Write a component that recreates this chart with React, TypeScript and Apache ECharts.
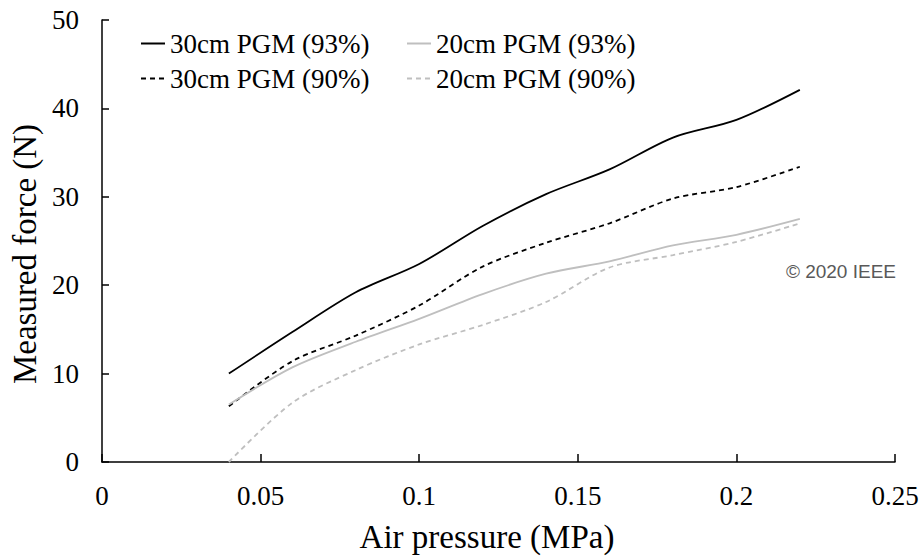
import React, { useEffect, useRef } from "react";
import * as echarts from "echarts";

const pressures = [0.04, 0.06, 0.08, 0.1, 0.12, 0.14, 0.16, 0.18, 0.2, 0.22];
const pgm30_93 = [10.0, 14.7, 19.2, 22.4, 26.7, 30.3, 33.1, 36.7, 38.7, 42.1];
const pgm30_90 = [6.3, 11.4, 14.3, 17.7, 22.1, 24.8, 27.0, 29.8, 31.1, 33.4];
const pgm20_93 = [6.5, 10.7, 13.6, 16.2, 19.0, 21.3, 22.7, 24.5, 25.7, 27.5];
const pgm20_90 = [0.0, 6.7, 10.4, 13.3, 15.5, 18.1, 22.0, 23.4, 24.9, 27.0];

const seriesNames = ["30cm PGM (93%)", "30cm PGM (90%)", "20cm PGM (93%)", "20cm PGM (90%)"];
const xTitle = "Air pressure (MPa)";
const yTitle = "Measured force (N)";
const copyright = "\u00a9 2020 IEEE";

const SERIF = "'Liberation Serif', 'Times New Roman', serif";

export default function App() {
  const ref = useRef<HTMLDivElement>(null);
  useEffect(() => {
    if (!ref.current) return;
    const chart = echarts.init(ref.current, null, { renderer: "svg" });
    const pairs = (ys: number[]) => pressures.map((x, i) => [x, ys[i]]);
    const mk = (name: string, ys: number[], color: string, type: any, width: number) => ({
      name,
      type: "line",
      data: pairs(ys),
      smooth: 0.3,
      symbol: "none",
      lineStyle: { color, width, type },
      itemStyle: { color },
    });
    const legendText = { fontFamily: SERIF, fontSize: 27, color: "#000" };
    const legendBase = {
      top: 30,
      padding: 0,
      orient: "vertical",
      itemWidth: 24,
      itemHeight: 14,
      itemGap: 8,
      itemStyle: { opacity: 0 },
      textStyle: legendText,
    };
    chart.setOption({
      animation: false,
      backgroundColor: "#fff",
      grid: { left: 102, right: 28, top: 20, bottom: 96 },
      legend: [
        { ...legendBase, left: 140, data: [seriesNames[0], seriesNames[1]] },
        { ...legendBase, left: 406, data: [seriesNames[2], seriesNames[3]] },
      ],
      xAxis: {
        type: "value",
        min: 0,
        max: 0.25,
        interval: 0.05,
        name: xTitle,
        nameLocation: "middle",
        nameGap: 58,
        nameTextStyle: { fontFamily: SERIF, fontSize: 33, color: "#000", padding: [0, 23, 0, 0] },
        axisLine: { lineStyle: { color: "#000", width: 1.5 } },
        axisTick: { inside: true, length: 8, lineStyle: { color: "#000", width: 1.5 } },
        axisLabel: { fontFamily: SERIF, fontSize: 27, color: "#000", margin: 20 },
        splitLine: { show: false },
      },
      yAxis: {
        type: "value",
        min: 0,
        max: 50,
        interval: 10,
        name: yTitle,
        nameLocation: "middle",
        nameGap: 48,
        nameTextStyle: { fontFamily: SERIF, fontSize: 33, color: "#000", padding: [0, 26, 0, 0] },
        axisLine: { show: true, lineStyle: { color: "#000", width: 1.5 } },
        axisTick: { show: true, inside: true, length: 7, lineStyle: { color: "#000", width: 1.5 } },
        axisLabel: { fontFamily: SERIF, fontSize: 27, color: "#000", margin: 23 },
        splitLine: { show: false },
      },
      graphic: [
        {
          type: "text",
          right: 27,
          top: 262,
          style: {
            text: copyright,
            font: "19px 'Liberation Sans', Arial, sans-serif",
            fill: "#595959",
          },
        },
      ],
      series: [
        mk(seriesNames[0], pgm30_93, "#000000", "solid", 1.8),
        mk(seriesNames[1], pgm30_90, "#000000", [5, 4], 1.8),
        mk(seriesNames[2], pgm20_93, "#bfbfbf", "solid", 1.8),
        mk(seriesNames[3], pgm20_90, "#bfbfbf", [5, 4], 1.8),
      ],
    });
    return () => chart.dispose();
  }, []);
  return <div ref={ref} style={{ width: 923, height: 558, position: "absolute", left: 0, top: 0 }} />;
}
